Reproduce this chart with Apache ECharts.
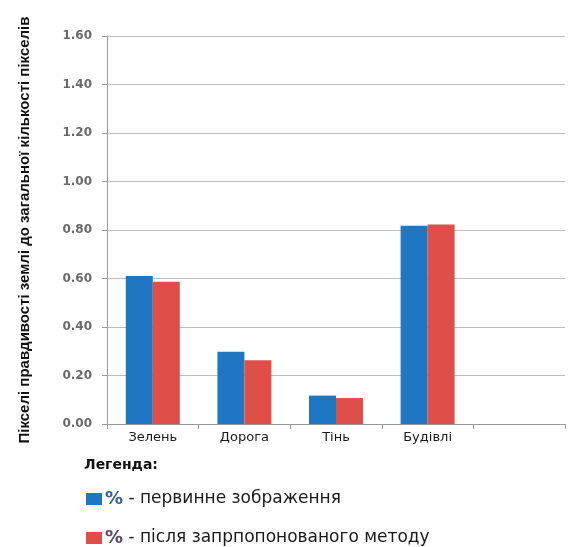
<!DOCTYPE html>
<html>
<head>
<meta charset="utf-8">
<script src="https://cdn.jsdelivr.net/npm/echarts@6/dist/echarts.min.js"></script>
<style>
  html, body { margin: 0; padding: 0; background: #fff; }
  #chart { width: 579px; height: 547px; }
</style>
</head>
<body>
<div id="chart"></div>
<script>
// Land classes (the last slot is left empty on purpose)
const categories = ['Зелень', 'Дорога', 'Тінь', 'Будівлі', ''];
// Share of ground-truth pixels per class
const originalImage = [0.61, 0.298, 0.117, 0.818, null];
const proposedMethod = [0.587, 0.263, 0.107, 0.823, null];
const seriesNames = ['первинне зображення', 'після запрпопонованого методу'];
const yTicks = { min: 0, max: 1.6, interval: 0.2 };

const BLUE = '#1f76c2';
const RED = '#df4f49';

// One legend row per series, stacked by hand
function legendRow(name, top, pctColor) {
  return {
    orient: 'horizontal',
    left: 81,
    top: top,
    itemWidth: 16,
    itemHeight: 12,
    itemGap: 4,
    icon: 'rect',
    data: [name],
    formatter: n => '{p|%} - ' + n,
    textStyle: {
      color: '#1a1a1a', fontFamily: 'DejaVu Sans', fontSize: 17,
      padding: [0, 0, 0, -2],
      rich: {
        p: { color: pctColor, fontFamily: 'DejaVu Sans', fontWeight: 'bold', fontSize: 18 }
      }
    }
  };
}

const chart = echarts.init(document.getElementById('chart'));
chart.setOption({
  animation: false,
  backgroundColor: '#ffffff',
  grid: { left: 107, right: 14, top: 36, bottom: 123, containLabel: false },
  xAxis: {
    type: 'category',
    data: categories,
    axisLine: { lineStyle: { color: '#9a9a9a', width: 1 } },
    axisTick: { show: true, length: 5, lineStyle: { color: '#9a9a9a' } },
    axisLabel: {
      color: '#1a1a1a', fontFamily: 'DejaVu Sans', fontSize: 13, margin: 7
    }
  },
  yAxis: {
    type: 'value',
    min: yTicks.min, max: yTicks.max, interval: yTicks.interval,
    name: 'Пікселі правдивості землі до загальної кількості пікселів',
    nameLocation: 'middle',
    nameGap: 75,
    nameRotate: 90,
    nameTextStyle: {
      color: '#111', fontFamily: 'Liberation Sans', fontWeight: 'bold', fontSize: 15
    },
    axisLine: { show: true, lineStyle: { color: '#9a9a9a', width: 1 } },
    axisTick: { show: true, length: 5, lineStyle: { color: '#9a9a9a' } },
    splitLine: { lineStyle: { color: '#bdbdbd', width: 1 } },
    axisLabel: {
      color: '#6a6a6a', fontFamily: 'DejaVu Sans', fontWeight: 'bold', fontSize: 12,
      margin: 15,
      formatter: v => v.toFixed(2)
    }
  },
  legend: [
    legendRow(seriesNames[0], 485, '#3a5f92'),
    legendRow(seriesNames[1], 524, '#5a4a66')
  ],
  graphic: [
    {
      type: 'text', left: 84, top: 458,
      style: { text: 'Легенда:', fill: '#111', font: 'bold 14px "DejaVu Sans"' }
    }
  ],
  series: [
    {
      name: seriesNames[0], type: 'bar', data: originalImage,
      barWidth: 27, barGap: '0%',
      itemStyle: { color: BLUE }
    },
    {
      name: seriesNames[1], type: 'bar', data: proposedMethod,
      barWidth: 27, barGap: '0%',
      itemStyle: { color: RED }
    }
  ]
});
</script>
</body>
</html>
